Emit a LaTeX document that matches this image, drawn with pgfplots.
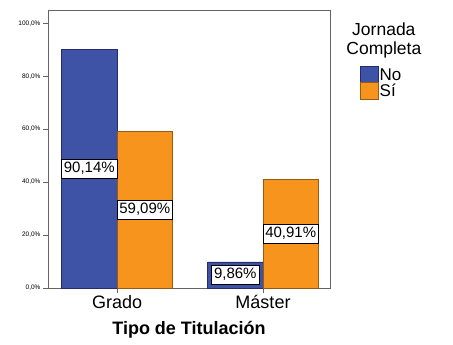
\documentclass[border=0pt]{standalone}
\usepackage{pgfplots}
\pgfplotsset{compat=1.18}
\usepackage{fontspec}
\setmainfont{Liberation Sans}

\definecolor{barblue}{RGB}{62,83,165}
\definecolor{barorange}{RGB}{247,148,30}
\definecolor{edgeblue}{RGB}{35,45,110}
\definecolor{edgeorange}{RGB}{150,90,20}
\definecolor{framegray}{RGB}{100,100,100}

\begin{document}
\begin{tikzpicture}
\useasboundingbox (-48pt,-57pt) rectangle (405pt,288pt);
\begin{axis}[
    at={(0pt,0pt)}, anchor=south west,
    scale only axis,
    width=282pt, height=278pt,
    xmin=-0.473, xmax=1.459,
    ymin=0, ymax=105,
    axis line style={framegray, line width=0.8pt},
    xtick={0,1},
    xticklabels={Grado, Máster},
    ytick={0,20,40,60,80,100},
    yticklabels={{0,0\%},{20,0\%},{40,0\%},{60,0\%},{80,0\%},{100,0\%}},
    xtick pos=lower, ytick pos=left,
    tick align=outside,
    major tick length=5pt,
    tick style={framegray, line width=0.7pt},
    y tick label style={font=\fontsize{6.5}{7}\selectfont, xshift=1pt},
    x tick label style={font=\fontsize{18}{20}\selectfont, yshift=1pt},
    xlabel={Tipo de Titulación},
    xlabel style={font=\fontsize{18}{20}\selectfont\bfseries, yshift=-5pt},
    legend style={at={(rel axis cs:1.106,0.80)}, anchor=north west,
        draw=none, fill=none, inner sep=0pt, row sep=-2pt,
        font=\fontsize{17}{19}\selectfont,
        nodes={inner xsep=1pt}},
    legend cell align=left,
    legend image code/.code={\draw[#1] (0pt,-8pt) rectangle (18pt,9pt);},
    clip=false,
]

% No
\addplot[ybar, bar width=0.38, bar shift=-0.19, fill=barblue, draw=edgeblue, line width=0.6pt]
    coordinates {(0,90.14) (1,9.86)};
\addlegendentry{No}

% Si
\addplot[ybar, bar width=0.38, bar shift=0.19, fill=barorange, draw=edgeorange, line width=0.6pt]
    coordinates {(0,59.09) (1,40.91)};
\addlegendentry{Sí}

% value labels in the middle of each bar
\addplot[only marks, mark=none, forget plot,
    nodes near coords, point meta=explicit symbolic,
    every node near coord/.style={anchor=center, draw=black, line width=0.5pt,
        fill=white, inner sep=2.5pt, text height=11pt, text depth=3.5pt,
        font=\fontsize{15}{16}\selectfont}]
    coordinates {
    (-0.19,45.07) [90,14\%]
    (0.81,4.93) [9,86\%]
    (0.19,29.545) [59,09\%]
    (1.19,20.455) [40,91\%]
    };

\node[align=center, anchor=north, font=\fontsize{17.5}{19}\selectfont]
    at (rel axis cs:1.191,0.965) {Jornada\\Completa};
\end{axis}
\end{tikzpicture}
\end{document}
